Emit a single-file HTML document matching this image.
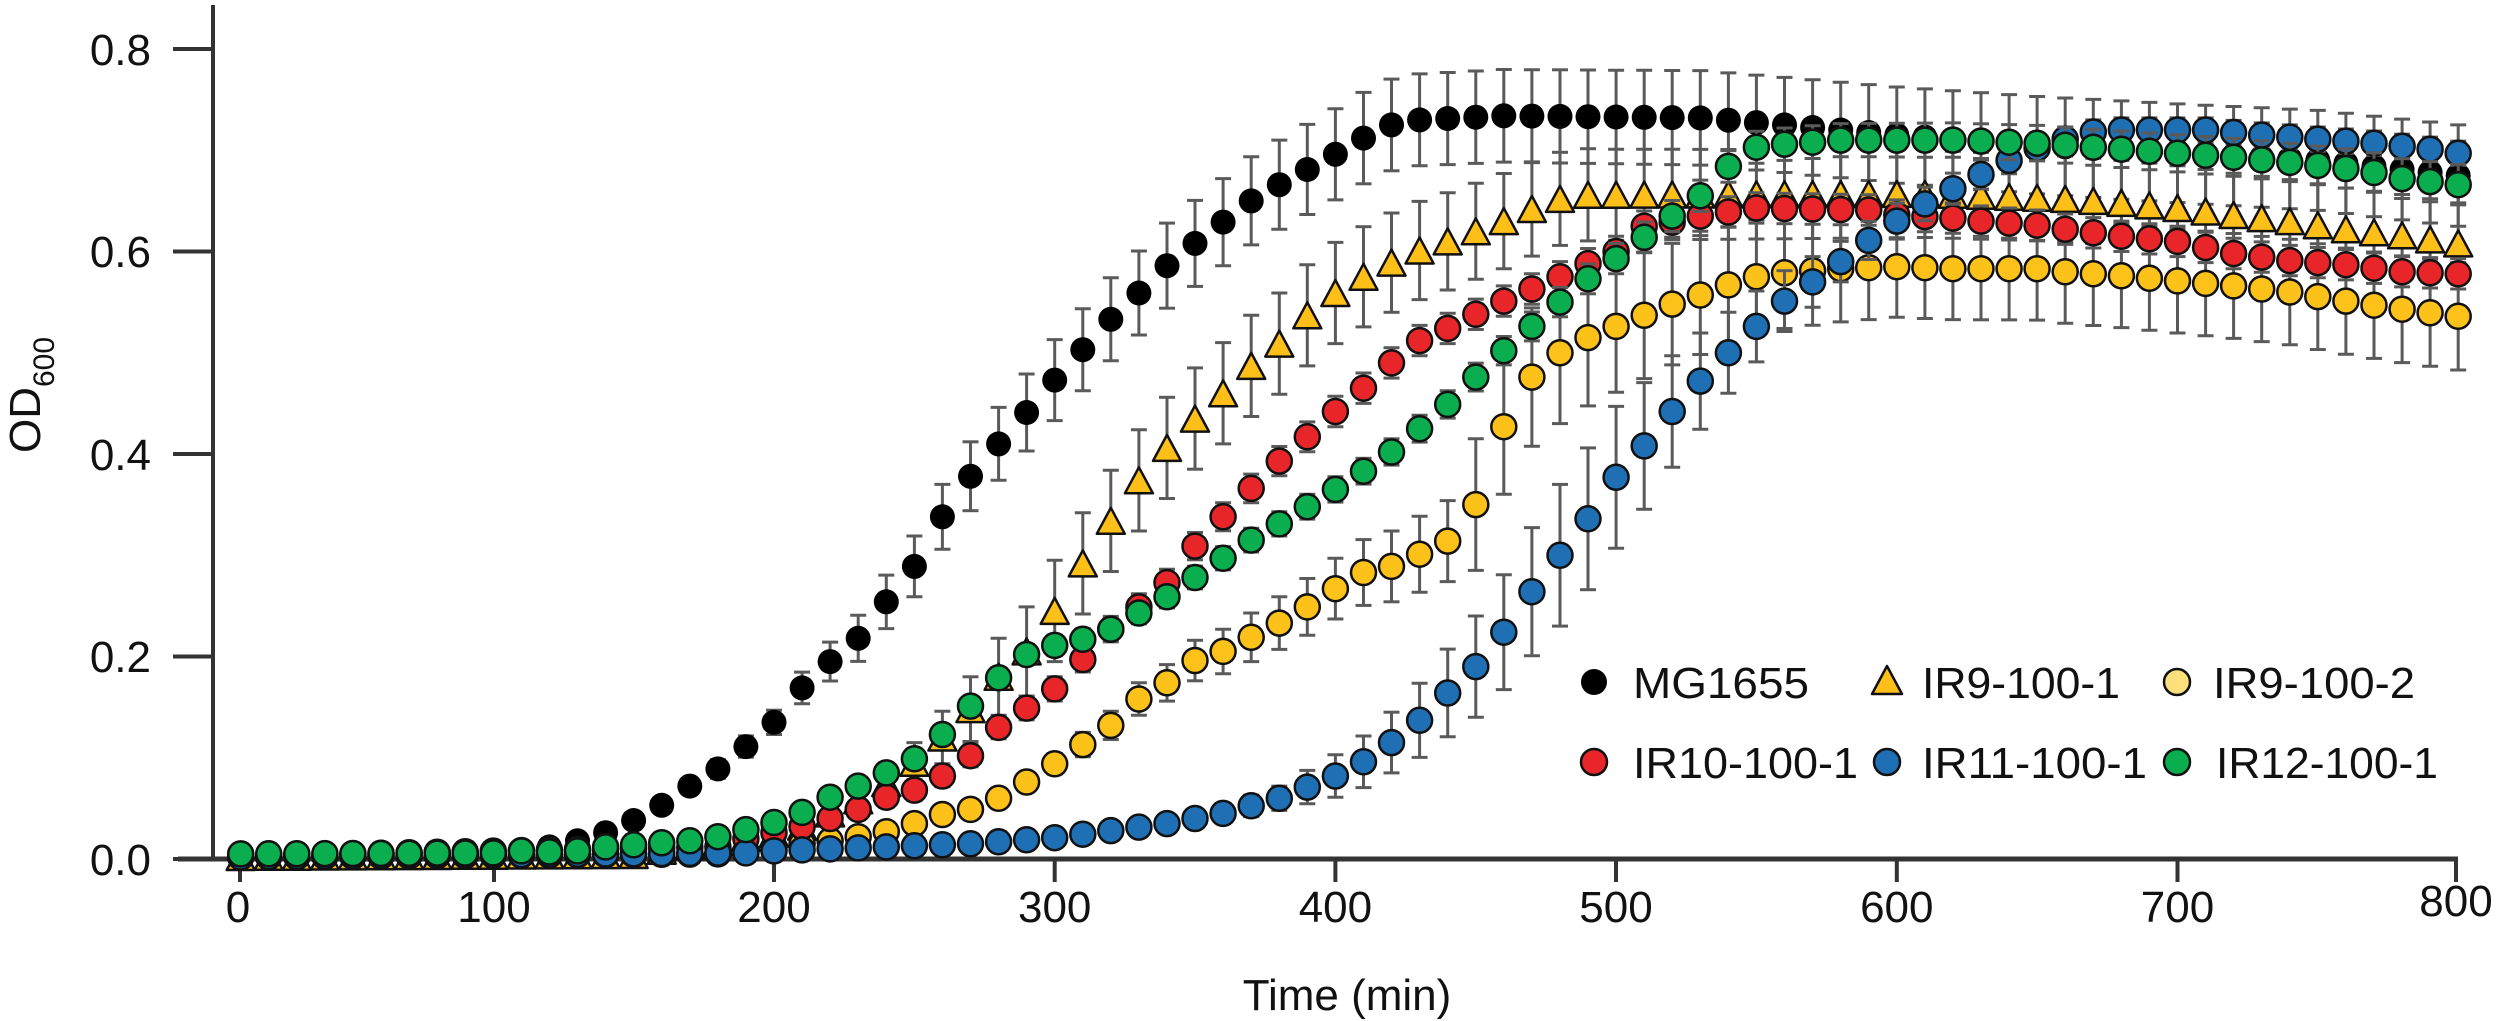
<!DOCTYPE html>
<html><head><meta charset="utf-8">
<style>
html,body{margin:0;padding:0;background:#fff;}
svg{display:block;}
text{font-family:"Liberation Sans",sans-serif;fill:#111;}
</style></head>
<body>
<svg id="c" width="2500" height="1021" viewBox="0 0 2500 1021" xmlns="http://www.w3.org/2000/svg">
<g id="axes" stroke="#333" stroke-width="4" fill="none">
<line x1="213" y1="5" x2="213" y2="861"/>
<line x1="178" y1="859" x2="2458" y2="859" stroke-width="5"/>
<line x1="173" y1="859" x2="213" y2="859"/>
<line x1="173" y1="656.5" x2="213" y2="656.5"/>
<line x1="173" y1="454" x2="213" y2="454"/>
<line x1="173" y1="251.5" x2="213" y2="251.5"/>
<line x1="173" y1="49" x2="213" y2="49"/>
<line x1="240" y1="859" x2="240" y2="882"/>
<line x1="494" y1="859" x2="494" y2="882"/>
<line x1="774" y1="859" x2="774" y2="882"/>
<line x1="1054.7" y1="859" x2="1054.7" y2="882"/>
<line x1="1335.4" y1="859" x2="1335.4" y2="882"/>
<line x1="1616" y1="859" x2="1616" y2="882"/>
<line x1="1896.8" y1="859" x2="1896.8" y2="882"/>
<line x1="2177.5" y1="859" x2="2177.5" y2="882"/>
<line x1="2456" y1="859" x2="2456" y2="882"/>
</g>
<g font-size="44" text-anchor="end">
<text x="151" y="875">0.0</text>
<text x="151" y="672">0.2</text>
<text x="151" y="470">0.4</text>
<text x="151" y="267">0.6</text>
<text x="151" y="65">0.8</text>
</g>
<g font-size="44" text-anchor="middle">
<text x="238" y="922">0</text>
<text x="494" y="922">100</text>
<text x="774" y="922">200</text>
<text x="1054.7" y="922">300</text>
<text x="1335.4" y="922">400</text>
<text x="1616" y="922">500</text>
<text x="1896.8" y="922">600</text>
<text x="2177.5" y="922">700</text>
<text x="2456" y="916">800</text>
</g>
<text x="1347" y="1010" font-size="44" text-anchor="middle">Time (min)</text>
<text transform="translate(40,453) rotate(-90)" font-size="44">OD<tspan font-size="30" dy="14">600</tspan></text>
<g id="data"></g>
<g id="legend">
<circle cx="1594" cy="682" r="13" fill="#000"/>
<text x="1633" y="698" font-size="44" textLength="176" lengthAdjust="spacingAndGlyphs">MG1655</text>
<polygon points="1887,666 1902,694 1872,694" fill="#FDBF18" stroke="#111" stroke-width="2.5" stroke-linejoin="round"/>
<text x="1922" y="698" font-size="44" textLength="198" lengthAdjust="spacingAndGlyphs">IR9-100-1</text>
<circle cx="2177" cy="682" r="13" fill="#FDE07C" stroke="#111" stroke-width="2.5"/>
<text x="2213" y="698" font-size="44" textLength="202" lengthAdjust="spacingAndGlyphs">IR9-100-2</text>
<circle cx="1594" cy="762" r="13" fill="#E8262A" stroke="#111" stroke-width="2.5"/>
<text x="1633" y="778" font-size="44" textLength="225" lengthAdjust="spacingAndGlyphs">IR10-100-1</text>
<circle cx="1887" cy="762" r="13" fill="#1F6FB5" stroke="#111" stroke-width="2.5"/>
<text x="1922" y="778" font-size="44" textLength="225" lengthAdjust="spacingAndGlyphs">IR11-100-1</text>
<circle cx="2177" cy="762" r="13" fill="#0BAE4F" stroke="#111" stroke-width="2.5"/>
<text x="2216" y="778" font-size="44" textLength="222" lengthAdjust="spacingAndGlyphs">IR12-100-1</text>
</g>
</svg>
<script>
(function(){
function X(t){return 774+(t-200)*2.807;}
function Y(v){return 859-1012.5*v;}
function interp(k,t){
 if(t<=k[0][0])return k[0][1];
 for(var i=1;i<k.length;i++){if(t<=k[i][0]){var a=k[i-1],b=k[i];return a[1]+(b[1]-a[1])*(t-a[0])/(b[0]-a[0]);}}
 return k[k.length-1][1];
}
var S=[
{f:"#000",s:"none",sh:"c",
d:[[10,.006],[100,.007],[120,.012],[130,.018],[140,.026],[150,.038],[160,.053],[170,.072],[180,.089],[190,.111],[200,.135],[210,.169],[220,.195],[230,.218],[240,.254],[250,.289],[260,.338],[270,.378],[280,.41],[290,.441],[300,.473],[310,.503],[320,.533],[330,.559],[340,.586],[350,.608],[360,.629],[370,.65],[380,.666],[390,.681],[400,.696],[410,.712],[420,.725],[430,.73],[460,.734],[530,.732],[560,.725],[600,.715],[650,.705],[700,.697],[750,.69],[800,.675]],
e:[[10,.003],[150,.005],[200,.012],[250,.03],[300,.04],[400,.045],[800,.05]]},
{f:"#FDBF18",s:"#111",sh:"t",
d:[[10,.002],[150,.004],[200,.025],[210,.032],[220,.045],[230,.058],[240,.075],[250,.095],[260,.12],[270,.148],[280,.18],[290,.205],[300,.245],[310,.292],[320,.334],[330,.374],[340,.406],[350,.435],[360,.46],[370,.487],[380,.509],[390,.537],[400,.559],[410,.575],[420,.589],[430,.601],[440,.61],[450,.62],[460,.63],[470,.642],[480,.652],[490,.656],[610,.657],[630,.655],[660,.652],[680,.648],[700,.643],[720,.636],[740,.63],[760,.622],[780,.616],[800,.608]],
e:[[10,.002],[200,.005],[250,.02],[300,.05],[400,.05],[500,.045],[800,.04]]},
{f:"#FDC21A",s:"#111",sh:"c",
d:[[10,.002],[180,.005],[200,.01],[210,.015],[220,.018],[230,.022],[240,.027],[250,.035],[260,.044],[270,.049],[280,.06],[290,.076],[300,.094],[310,.113],[320,.132],[330,.158],[340,.174],[350,.196],[360,.205],[370,.219],[380,.233],[390,.249],[400,.267],[410,.283],[420,.289],[430,.301],[440,.314],[450,.35],[460,.427],[470,.476],[480,.5],[490,.515],[500,.526],[510,.537],[520,.548],[530,.557],[540,.567],[550,.575],[560,.579],[570,.581],[580,.583],[600,.585],[620,.583],[650,.583],[660,.58],[680,.576],[700,.571],[720,.566],[740,.56],[760,.551],[780,.543],[800,.536]],
e:[[10,.002],[250,.008],[300,.01],[350,.02],[400,.03],[440,.04],[450,.065],[480,.07],[520,.06],[600,.05],[800,.053]]},
{f:"#E8262A",s:"#111",sh:"c",
d:[[10,.003],[180,.012],[190,.02],[200,.026],[210,.032],[220,.04],[230,.049],[240,.061],[250,.068],[260,.082],[270,.102],[280,.13],[290,.149],[300,.168],[310,.197],[320,.227],[330,.249],[340,.273],[350,.309],[360,.338],[370,.366],[380,.393],[390,.417],[400,.442],[410,.465],[420,.49],[430,.512],[440,.524],[450,.538],[460,.551],[470,.563],[480,.575],[490,.588],[500,.6],[510,.625],[520,.629],[530,.635],[540,.639],[550,.643],[590,.641],[600,.636],[620,.633],[630,.63],[650,.626],[660,.622],[680,.615],[700,.61],[720,.598],[740,.591],[760,.587],[780,.58],[800,.578]],
e:[[10,.002],[300,.012],[400,.015],[800,.015]]},
{f:"#1F6FB5",s:"#111",sh:"c",
d:[[10,.002],[190,.006],[200,.008],[250,.013],[270,.015],[300,.021],[320,.028],[340,.035],[360,.045],[380,.06],[390,.071],[400,.082],[410,.096],[420,.115],[430,.137],[440,.164],[450,.19],[460,.224],[470,.264],[480,.3],[490,.336],[500,.377],[510,.408],[520,.442],[530,.472],[540,.5],[550,.526],[560,.551],[570,.57],[580,.59],[590,.611],[600,.63],[610,.647],[620,.662],[630,.676],[640,.69],[650,.702],[660,.711],[670,.718],[680,.72],[710,.72],[730,.715],[750,.711],[770,.707],[790,.701],[800,.697]],
e:[[10,.002],[330,.005],[380,.012],[420,.03],[450,.05],[480,.07],[500,.07],[540,.04],[580,.02],[650,.012],[800,.012]]},
{f:"#0BAE4F",s:"#111",sh:"c",
d:[[10,.005],[100,.006],[110,.008],[120,.007],[130,.008],[140,.012],[150,.014],[160,.016],[170,.018],[180,.022],[190,.029],[200,.036],[210,.046],[220,.061],[230,.072],[240,.085],[250,.099],[260,.123],[270,.151],[280,.179],[290,.202],[300,.211],[310,.217],[320,.227],[330,.243],[340,.259],[350,.278],[360,.297],[370,.315],[380,.331],[390,.348],[400,.365],[410,.383],[420,.402],[430,.425],[440,.449],[450,.476],[460,.502],[470,.526],[480,.55],[490,.573],[500,.593],[510,.614],[520,.635],[530,.655],[540,.684],[550,.703],[560,.706],[570,.708],[580,.71],[620,.71],[650,.707],[680,.701],[700,.697],[720,.693],[740,.688],[760,.682],[770,.678],[780,.672],[800,.666]],
e:[[10,.002],[300,.01],[500,.015],[800,.02]]}
];
var h="";
for(var i=0;i<S.length;i++){
 var s=S[i],bars="",mk="";
 for(var t=10;t<=800;t+=10){
  var v=interp(s.d,t),e=interp(s.e,t),x=X(t).toFixed(1),y=Y(v);
  var y1=Y(v+e).toFixed(1),y2=Y(v-e).toFixed(1);
  bars+='<line x1="'+x+'" y1="'+y1+'" x2="'+x+'" y2="'+y2+'"/>';
  bars+='<line x1="'+(X(t)-8).toFixed(1)+'" y1="'+y1+'" x2="'+(X(t)+8).toFixed(1)+'" y2="'+y1+'"/>';
  bars+='<line x1="'+(X(t)-8).toFixed(1)+'" y1="'+y2+'" x2="'+(X(t)+8).toFixed(1)+'" y2="'+y2+'"/>';
  if(s.sh=="t"){
   var cx=X(t),cy=y+2;
   mk+='<polygon points="'+cx.toFixed(1)+','+(cy-15).toFixed(1)+' '+(cx+14).toFixed(1)+','+(cy+11).toFixed(1)+' '+(cx-14).toFixed(1)+','+(cy+11).toFixed(1)+'"/>';
  } else {
   mk+='<circle cx="'+x+'" cy="'+y.toFixed(1)+'" r="12.5"/>';
  }
 }
 h+='<g stroke="#5a5a5a" stroke-width="3">'+bars+'</g>';
 h+='<g fill="'+s.f+'" stroke="'+s.s+'" stroke-width="2.5" stroke-linejoin="round">'+mk+'</g>';
}
document.getElementById("data").innerHTML=h;
})();
</script>
</body></html>
